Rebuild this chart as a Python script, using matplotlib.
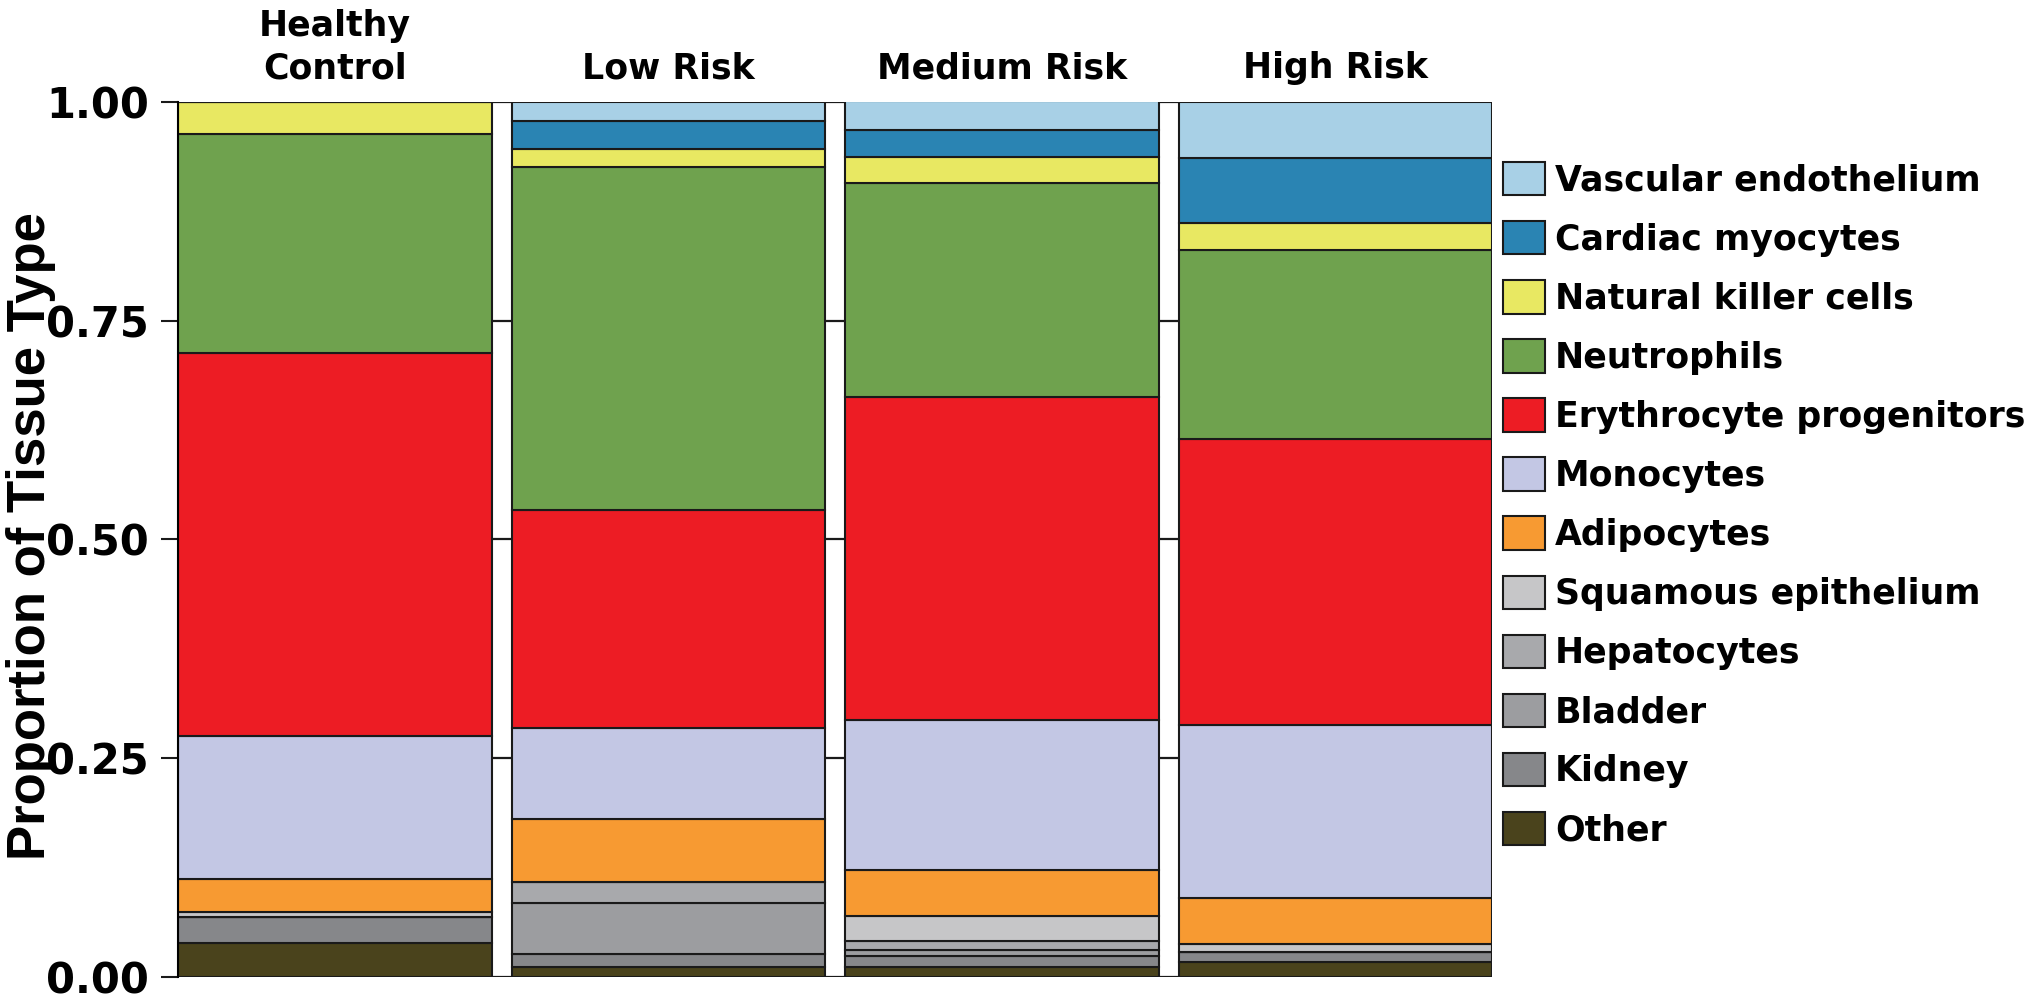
import numpy as np
import matplotlib.pyplot as plt
from matplotlib.patches import Patch

# groups (panel titles)
groups = ["Healthy\nControl", "Low Risk", "Medium Risk", "High Risk"]

# tissue types, listed bottom -> top of the stack
tissues = ["Other", "Kidney", "Bladder", "Hepatocytes", "Squamous epithelium",
           "Adipocytes", "Monocytes", "Erythrocyte progenitors", "Neutrophils",
           "Natural killer cells", "Cardiac myocytes", "Vascular endothelium"]

colors = ["#4a431c", "#86878a", "#9c9da0", "#a8a9ac", "#c6c6c8",
          "#f79a32", "#c3c7e4", "#ed1c24", "#6fa24e",
          "#e8e862", "#2a84b3", "#a8d0e6"]

# proportions per group (same order as tissues)
healthy = [0.0385, 0.0305, 0.0, 0.0, 0.0056, 0.037, 0.1634, 0.438, 0.250, 0.037, 0.0, 0.0]
low     = [0.011, 0.015, 0.059, 0.024, 0.0, 0.071, 0.104, 0.249, 0.392, 0.021, 0.0315, 0.022]
medium  = [0.012, 0.0125, 0.0065, 0.0103, 0.0283, 0.053, 0.1705, 0.370, 0.2443, 0.029, 0.0315, 0.0325]
high    = [0.0168, 0.012, 0.0, 0.0, 0.009, 0.053, 0.197, 0.327, 0.216, 0.031, 0.074, 0.064]

data = np.array([healthy, low, medium, high])

fig = plt.figure(figsize=(20.4, 9.99), dpi=100)
ax = fig.add_axes([0.0873, 0.022, 0.6441, 0.8762])

x = np.arange(len(groups))
width = 0.94
bottom = np.zeros(len(groups))
for i, t in enumerate(tissues):
    vals = data[:, i]
    ax.bar(x, vals, width=width, bottom=bottom, color=colors[i],
           edgecolor="#1a1a1a", linewidth=1.5, zorder=2)
    bottom += vals

ax.set_xlim(-width / 2, len(groups) - 1 + width / 2)
ax.set_ylim(0, 1)

yt = [0, 0.25, 0.5, 0.75, 1.0]
for y in yt:
    ax.axhline(y, color="#1a1a1a", lw=1.6, zorder=0.5)
ax.set_yticks(yt)
ax.set_yticklabels(["0.00", "0.25", "0.50", "0.75", "1.00"],
                   fontsize=30, fontweight="bold", family="DejaVu Sans")
ax.tick_params(axis="y", length=12, width=1.5, pad=9, color="#1a1a1a")
ax.set_xticks([])
for s in ["top", "right", "bottom"]:
    ax.spines[s].set_visible(False)
ax.spines["left"].set_linewidth(1.5)
ax.spines["left"].set_zorder(3)

for xi, g in zip(x, groups):
    ax.text(xi, 1.027, g, ha="center", va="baseline", fontsize=25,
            fontweight="bold", family="DejaVu Sans", linespacing=1.29)

fig.text(31 / 2040, 1 - 536 / 999, "Proportion of Tissue Type", rotation=90,
         ha="center", va="center", fontsize=38, fontweight="bold",
         family=["Liberation Sans Narrow", "Liberation Sans"])

handles = [Patch(facecolor=c, edgecolor="#1a1a1a", linewidth=1.5) for c in colors][::-1]
labels = tissues[::-1]
leg = fig.legend(handles, labels, loc="upper left",
                 bbox_to_anchor=(1503 / 2040, 1 - 162 / 999),
                 frameon=False, borderpad=0, borderaxespad=0,
                 handlelength=1.2, handleheight=1.1, handletextpad=0.3,
                 labelspacing=0.68,
                 prop={"family": "DejaVu Sans", "weight": "bold", "size": 25})

fig.savefig("out.png", dpi=100)
